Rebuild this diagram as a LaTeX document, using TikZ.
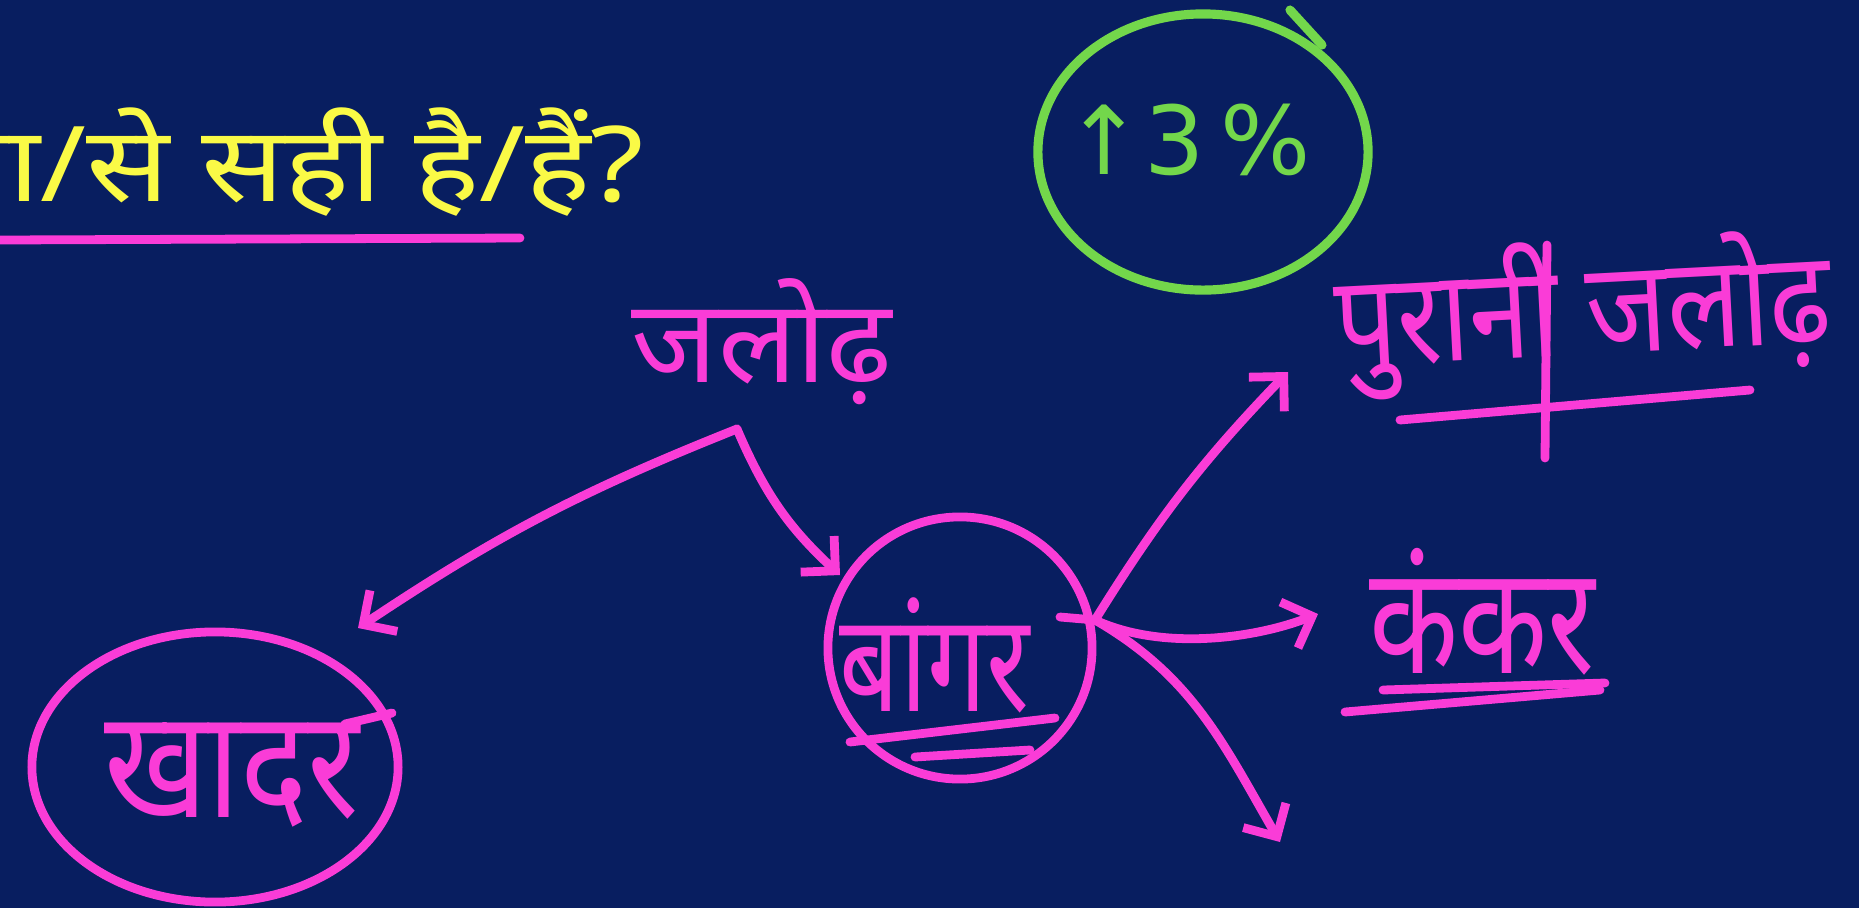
\documentclass[tikz,border=0pt]{standalone}
\usepackage{fontspec}
\usetikzlibrary{arrows.meta,shapes.geometric}
\newfontfamily\deva[Script=Devanagari]{Noto Sans}
\newfontfamily\dejavu{DejaVu Sans}
\definecolor{bg}{RGB}{8,30,96}
\definecolor{pinkpen}{RGB}{250,60,215}
\definecolor{greenpen}{RGB}{115,215,75}
\definecolor{titleyellow}{RGB}{250,250,70}
\begin{document}
\begin{tikzpicture}[x=0.01cm,y=-0.01cm,
  pen/.style={draw=pinkpen,line width=2.5pt,line cap=round,line join=round},
  gpen/.style={draw=greenpen,line width=2.6pt,line cap=round,line join=round},
  arr/.style={pen,-{Straight Barb[length=7pt,width=14pt]}},
  hand/.style={text=pinkpen,inner sep=0pt},
  ring/.style={pen,ellipse,inner sep=0pt}]
\fill[bg] (0,0) rectangle (1859,908);
\useasboundingbox (0,0) rectangle (1859,908);
\clip (0,0) rectangle (1859,908);

% title (cut at the left edge, as in the reference)
\node[anchor=base west,text=titleyellow,inner sep=0pt,font=\deva\fontsize{35}{40}\selectfont] (title) at (-75,201) {\scalebox{1}[0.85]{सा/से सही है/हैं?}};
\draw[pen] (0,240) -- (520,238);

% green circle
\node[gpen,ellipse,minimum width=3.3cm,minimum height=2.76cm] (grc) at (1203,152) {};
\draw[gpen] (1290,10) -- (1322,45);
\node[text=greenpen,inner sep=0pt,font=\dejavu\fontsize{27}{30}\selectfont] (pct) at (1188,140) {↑3\,\%};

% jalodh
\node[hand,font=\deva\fontsize{33}{40}\selectfont] (jal) at (762,342) {जलोढ़};
\coordinate (apex) at (737,429);
\coordinate (khtip) at (358,628);
\coordinate (bgtip) at (840,575);

% khadar
\node[ring,minimum width=3.66cm,minimum height=2.7cm] (khadar) at (215,767) {};
\node[hand,font=\deva\fontsize{36}{40}\selectfont] (khtxt) at (232,775) {\scalebox{1}[1.2]{खादर}};
\draw[pen] (345,724) -- (392,713);

% bangar
\node[ring,minimum width=2.64cm,minimum height=2.62cm] (bangar) at (960,648) {};
\node[hand,font=\deva\fontsize{30}{36}\selectfont] (bgtxt) at (935,655) {\scalebox{1}[1.3]{बांगर}};
\draw[pen] (850,742) -- (1055,718);
\draw[pen] (915,757) -- (1030,750);

% purani jalodh
\node[hand,rotate=3,font=\deva\fontsize{31}{40}\selectfont] (pur) at (1583,314) {\scalebox{1}[1.18]{पुरानी जलोढ़}};
\draw[pen] (1400,420) -- (1750,390);
\draw[pen] (1547,245) -- (1545,458);

% kankar
\node[hand,font=\deva\fontsize{33}{40}\selectfont] (kank) at (1482,612) {\scalebox{1}[1.3]{कंकर}};
\draw[pen] (1383,690) -- (1605,683);
\draw[pen] (1345,712) -- (1600,690);

% connectors
\coordinate (junc) at (1095,620);
\coordinate (putip) at (1288,372);
\coordinate (kktip) at (1318,614);
\coordinate (dntip) at (1280,842);
\draw[arr] (apex) to[bend right=6] (khtip);
\draw[arr] (apex) to[bend right=12] (bgtip);
\draw[pen] (1060,617) -- (junc);
\draw[arr] (junc) to[bend left=6] (putip);
\draw[arr] (junc) .. controls (1160,650) and (1250,640) .. (kktip);
\draw[arr] (junc) to[out=-30,in=120] (dntip);
\end{tikzpicture}
\end{document}
